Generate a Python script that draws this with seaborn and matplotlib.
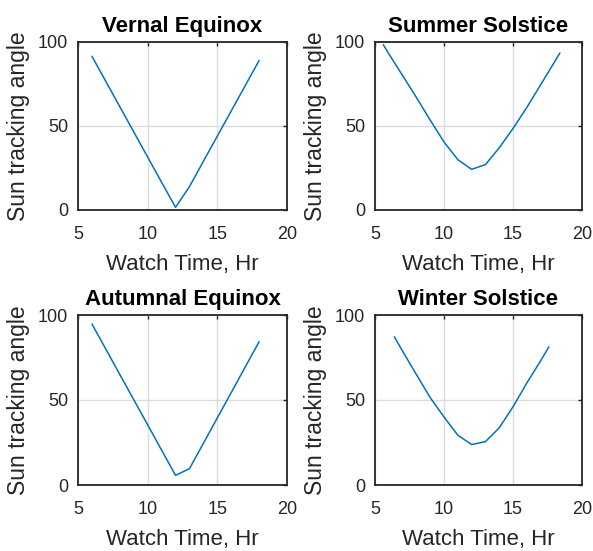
import numpy as np
import pandas as pd
import matplotlib
matplotlib.use("Agg")
import matplotlib.pyplot as plt
import seaborn as sns

titles = ["Vernal Equinox", "Summer Solstice", "Autumnal Equinox", "Winter Solstice"]

vernal_t = [6, 7, 8, 9, 10, 11, 12, 13, 14, 15, 16, 17, 18]
vernal_a = [91.5, 76.5, 61.5, 46.5, 31.5, 16.5, 1.6, 13.9, 29, 44, 59, 74, 89]

summer_t = [5.6, 6, 7, 8, 9, 10, 11, 12, 13, 14, 15, 16, 17, 18, 18.4]
summer_a = [98.4, 93, 80, 67, 53.5, 40.5, 30, 24.2, 27, 37, 48.5, 61, 74.5, 88, 93.5]

autumn_t = [6, 7, 8, 9, 10, 11, 12, 13, 14, 15, 16, 17, 18]
autumn_a = [94.7, 79.9, 65.0, 50.2, 35.4, 20.5, 5.7, 9.6, 24.5, 39.5, 54.4, 69.4, 84.3]

winter_t = [6.4, 7, 8, 9, 10, 11, 12, 13, 14, 15, 16, 17, 17.6]
winter_a = [87.2, 78.7, 65, 51.4, 40, 29.3, 23.8, 25.5, 33.6, 46, 60, 73, 81.3]

x_ticks = [5, 10, 15, 20]
y_ticks = [0, 50, 100]
x_label = "Watch Time, Hr"
y_label = "Sun tracking angle"

series = [(vernal_t, vernal_a), (summer_t, summer_a), (autumn_t, autumn_a), (winter_t, winter_a)]

sns.set_style("white")
plt.rcParams['font.family'] = ['Liberation Sans', 'DejaVu Sans']

fig = plt.figure(figsize=(5.93, 5.51), dpi=100)
W, H = 593, 551
boxes = [(78, 42, 287, 210), (375, 42, 582, 210), (78, 315, 287, 485), (375, 315, 582, 485)]
txt = "#262626"

for (t, a), title, (x0, y0, x1, y1) in zip(series, titles, boxes):
    ax = fig.add_axes([x0 / W, 1 - y1 / H, (x1 - x0) / W, (y1 - y0) / H])
    df = pd.DataFrame({"t": t, "a": a})
    sns.lineplot(data=df, x="t", y="a", ax=ax, color="#0072BD", linewidth=1.1, sort=False)
    ax.set_xlim(5, 20)
    ax.set_ylim(0, 100)
    ax.set_xticks(x_ticks)
    ax.set_yticks(y_ticks)
    ax.grid(True, color="#dcdcdc", linewidth=1.0)
    ax.set_axisbelow(True)
    ax.tick_params(direction="in", length=3, width=1, top=True, right=True,
                   labelsize=13, colors=txt)
    ax.tick_params(axis="x", pad=11.5)
    ax.tick_params(axis="y", pad=7.2)
    for s in ax.spines.values():
        s.set_visible(True)
        s.set_color(txt)
        s.set_linewidth(1.3)
    wpx, hpx = x1 - x0, y1 - y0
    ax.set_xlabel(x_label, fontsize=16, color=txt)
    ax.xaxis.set_label_coords(0.5, -44.0 / hpx)
    ax.set_ylabel(y_label, fontsize=16.5, color=txt)
    ax.yaxis.set_label_coords(-48.0 / wpx, 0.5)
    ax.set_title(title, fontsize=16, fontweight="bold", color="black", pad=7.5)

fig.savefig("out.png", dpi=100, facecolor="white")
